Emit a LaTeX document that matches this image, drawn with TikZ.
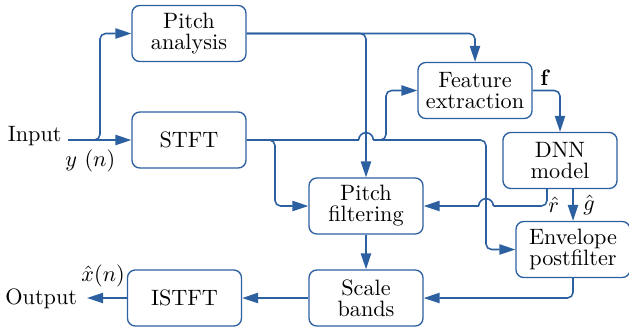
\documentclass[tikz,border=0pt]{standalone}
\usetikzlibrary{arrows.meta,calc}
\definecolor{lnblue}{RGB}{45,96,160}
\begin{document}
\begin{tikzpicture}[x=0.45pt,y=-0.45pt,
  box/.style={draw=lnblue,line width=0.6pt,rounded corners=3.5pt,minimum width=51.3pt,minimum height=25.2pt,inner sep=0pt,align=center,font=\fontsize{10}{9.5}\selectfont},
  conn/.style={draw=lnblue,line width=0.7pt,rounded corners=2.5pt,-{Triangle[length=7.2pt,width=4.6pt]}},
  wire/.style={draw=lnblue,line width=0.7pt,rounded corners=2.5pt},
  lbl/.style={inner sep=0pt,anchor=base west}]
\useasboundingbox (0,0) rectangle (629,327);
% nodes
\node[box] (PA) at (189,33.5) {Pitch\\analysis};
\node[box] (STFT) at (189,140) {STFT};
\node[box] (FE) at (475,90.5) {Feature\\extraction};
\node[box] (DNN) at (560,160.5) {DNN\\model};
\node[box] (PF) at (366,206) {Pitch\\filtering};
\node[box] (EP) at (573,249.5) {Envelope\\postfilter};
\node[box] (SB) at (366,298) {Scale\\bands};
\node[box] (IS) at (184.5,298) {ISTFT};
% texts
\node[inner sep=0pt,anchor=base east] (inp) at (62,141) {Input};
\node[inner sep=0pt,anchor=base east] (outp) at (77.5,304.5) {Output};
\node[lbl] (ylab) at (65,166.5) {$y\ (n)$};
\node[lbl] (xlab) at (81,281) {$\hat{x}(n)$};
\node[lbl] (flab) at (540,85) {$\mathbf{f}$};
\node[lbl] (rlab) at (548,212) {$\hat{r}$};
\node[lbl] (glab) at (583,210.5) {$\hat{g}$};
% coordinates
\coordinate (in) at (68,140);
\coordinate (out) at (87,298);
\coordinate (b0) at (100,140);
\coordinate (b1) at (275,140);
\coordinate (b2) at (386,140);
\coordinate (b3) at (486,140);
\coordinate (hop1) at (PF.north |- STFT.east);
\coordinate (hop2) at (b3 |- PF.east);
\coordinate (rs) at ($(DNN.south)+(-13,0)$);
% connectors
\draw[conn] (in) -- (STFT.west);
\draw[conn] (in) -- (b0) |- (PA.west);
\draw[conn] (PA.east) -| (FE.north);
\draw[conn] (PA.east) -| (PF.north);
\draw[wire] (STFT.east) -- ([xshift=-3.3pt]hop1);
\draw[wire] ([xshift=-3.3pt]hop1) arc[start angle=180,end angle=0,radius=3.3pt];
\draw[conn] ([xshift=3.3pt]hop1) -- (b3) |- (EP.west);
\draw[conn] (STFT.east) -- (b1) |- (PF.west);
\draw[conn] ([xshift=3.3pt]hop1) -- (b2) |- (FE.west);
\draw[conn] (FE.east) -| (DNN.north);
\draw[conn] (EP.north |- DNN.south) -- (EP.north);
\draw[wire] (rs) |- ([xshift=3.3pt]hop2);
\draw[wire] ([xshift=3.3pt]hop2) arc[start angle=0,end angle=180,radius=3.3pt];
\draw[conn] ([xshift=-3.3pt]hop2) -- (PF.east);
\draw[conn] (PF.south) -- (SB.north);
\draw[conn] (EP.south) |- (SB.east);
\draw[conn] (SB.west) -- (IS.east);
\draw[conn] (IS.west) -- (out);
\end{tikzpicture}
\end{document}
